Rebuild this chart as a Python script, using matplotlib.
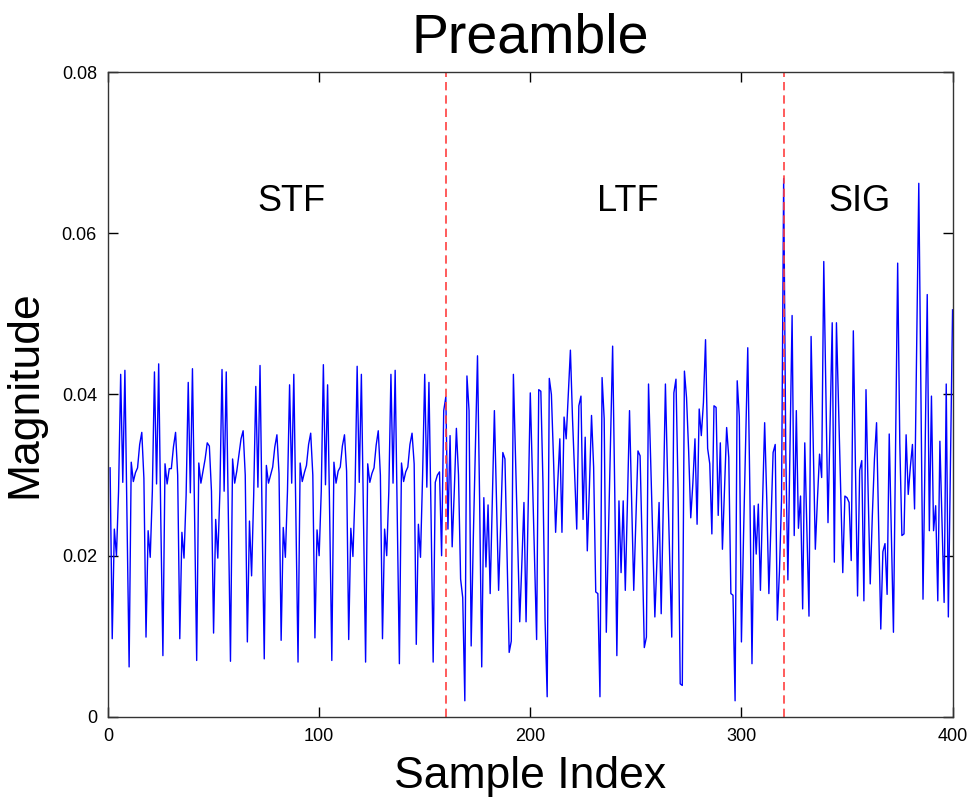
import matplotlib
matplotlib.use("Agg")
import matplotlib.pyplot as plt

plt.rcParams['font.family'] = ['Liberation Sans', 'DejaVu Sans']

# magnitude of the preamble samples
# short training field, samples 1..157 (16-sample repetitions)
stf = [
    0.0309, 0.0097, 0.0233, 0.0200, 0.0280, 0.0425, 0.0291, 0.0430, 0.0250, 0.0062, 0.0316, 0.0292, 0.0303, 0.0309, 0.0338, 0.0353,
    0.0296, 0.0099, 0.0231, 0.0198, 0.0280, 0.0428, 0.0289, 0.0438, 0.0245, 0.0076, 0.0314, 0.0289, 0.0308, 0.0308, 0.0335, 0.0353,
    0.0300, 0.0097, 0.0229, 0.0197, 0.0275, 0.0415, 0.0278, 0.0432, 0.0248, 0.0070, 0.0315, 0.0290, 0.0305, 0.0320, 0.0340, 0.0336,
    0.0280, 0.0104, 0.0245, 0.0197, 0.0280, 0.0431, 0.0280, 0.0428, 0.0250, 0.0069, 0.0320, 0.0290, 0.0305, 0.0325, 0.0345, 0.0355,
    0.0300, 0.0093, 0.0243, 0.0175, 0.0275, 0.0410, 0.0285, 0.0436, 0.0245, 0.0072, 0.0312, 0.0290, 0.0300, 0.0310, 0.0335, 0.0350,
    0.0302, 0.0095, 0.0235, 0.0198, 0.0280, 0.0412, 0.0290, 0.0425, 0.0250, 0.0068, 0.0315, 0.0292, 0.0303, 0.0312, 0.0338, 0.0352,
    0.0300, 0.0098, 0.0232, 0.0200, 0.0280, 0.0437, 0.0288, 0.0412, 0.0248, 0.0070, 0.0316, 0.0290, 0.0305, 0.0310, 0.0336, 0.0350,
    0.0305, 0.0096, 0.0234, 0.0199, 0.0280, 0.0435, 0.0291, 0.0425, 0.0250, 0.0068, 0.0314, 0.0291, 0.0302, 0.0309, 0.0337, 0.0355,
    0.0300, 0.0097, 0.0233, 0.0200, 0.0280, 0.0425, 0.0290, 0.0430, 0.0248, 0.0066, 0.0315, 0.0292, 0.0304, 0.0310, 0.0338, 0.0352,
    0.0314, 0.0090, 0.0239, 0.0198, 0.0300, 0.0425, 0.0285, 0.0415, 0.0250, 0.0068, 0.0291, 0.0300, 0.0304,
]

# long training field, samples 158..320
ltf = [
    0.0200, 0.0380, 0.0397, 0.0233, 0.0349, 0.0211, 0.0280, 0.0358, 0.0300, 0.0171,
    0.0148, 0.0020, 0.0423, 0.0380, 0.0088, 0.0220, 0.0335, 0.0448, 0.0270, 0.0062,
    0.0272, 0.0186, 0.0263, 0.0153, 0.0265, 0.0380, 0.0270, 0.0157, 0.0240, 0.0328,
    0.0320, 0.0200, 0.0080, 0.0094, 0.0425, 0.0320, 0.0220, 0.0118, 0.0190, 0.0266,
    0.0118, 0.0260, 0.0402, 0.0300, 0.0200, 0.0096, 0.0406, 0.0404, 0.0290, 0.0120,
    0.0025, 0.0420, 0.0400, 0.0320, 0.0229, 0.0290, 0.0345, 0.0229, 0.0372, 0.0345,
    0.0400, 0.0455, 0.0370, 0.0300,
    0.0233, 0.0386, 0.0398, 0.0245, 0.0347, 0.0206, 0.0285, 0.0374, 0.0310, 0.0155,
    0.0153, 0.0025, 0.0421, 0.0370, 0.0105, 0.0225, 0.0340, 0.0460, 0.0280, 0.0076,
    0.0268, 0.0179, 0.0268, 0.0157, 0.0265, 0.0380, 0.0270, 0.0157, 0.0245, 0.0330,
    0.0324, 0.0210, 0.0086, 0.0099, 0.0413, 0.0320, 0.0220, 0.0124, 0.0195, 0.0266,
    0.0128, 0.0265, 0.0413, 0.0300, 0.0200, 0.0099, 0.0402, 0.0419, 0.0280, 0.0041,
    0.0039, 0.0429, 0.0396, 0.0330, 0.0247, 0.0290, 0.0345, 0.0239, 0.0382, 0.0349,
    0.0390, 0.0468, 0.0333, 0.0314,
    0.0227, 0.0386, 0.0384, 0.0250, 0.0340, 0.0208, 0.0285, 0.0359, 0.0322, 0.0153,
    0.0151, 0.0020, 0.0417, 0.0372, 0.0093, 0.0225, 0.0340, 0.0458, 0.0280, 0.0066,
    0.0262, 0.0202, 0.0264, 0.0157, 0.0265, 0.0365, 0.0270, 0.0153, 0.0240, 0.0328,
    0.0338, 0.0120, 0.0180, 0.0270, 0.0668,
]

# signal field, samples 321..400
sig = [
    0.0330, 0.0170, 0.0335, 0.0498, 0.0225, 0.0380, 0.0234, 0.0274, 0.0134, 0.0340,
    0.0230, 0.0125, 0.0472, 0.0340, 0.0208, 0.0270, 0.0326, 0.0297, 0.0565, 0.0400,
    0.0241, 0.0365, 0.0489, 0.0192, 0.0489, 0.0385, 0.0280, 0.0179, 0.0274, 0.0272,
    0.0266, 0.0194, 0.0479, 0.0310, 0.0150, 0.0306, 0.0318, 0.0144, 0.0406, 0.0280,
    0.0165, 0.0250, 0.0320, 0.0365, 0.0240, 0.0109, 0.0205, 0.0215, 0.0152, 0.0351,
    0.0230, 0.0105, 0.0330, 0.0563, 0.0340, 0.0225, 0.0227, 0.0350, 0.0276, 0.0310,
    0.0338, 0.0258, 0.0460, 0.0662, 0.0400, 0.0146, 0.0330, 0.0524, 0.0231, 0.0398,
    0.0231, 0.0262, 0.0144, 0.0342, 0.0240, 0.0142, 0.0413, 0.0124, 0.0310, 0.0505,
]

magnitude = stf + ltf + sig
samples = list(range(1, len(magnitude) + 1))

boundaries = [160, 320]
field_names = ['STF', 'LTF', 'SIG']
field_x = [87, 246, 356]
field_y = 0.064

fig = plt.figure(figsize=(9.73, 8.01), dpi=100)
ax = fig.add_axes([0.111, 0.105, 0.868, 0.805])

ax.plot(samples, magnitude, color='#0000ff', linewidth=1.0)
for b in boundaries:
    ax.axvline(b, color='#ff4040', linewidth=1.2, linestyle=(0, (5, 3)))

for name, xx in zip(field_names, field_x):
    ax.text(xx, field_y, name, fontsize=26, ha='center', va='center')

ax.set_xlim(0, 400)
ax.set_ylim(0, 0.08)
ax.set_xticks([0, 100, 200, 300, 400])
ax.set_yticks([0, 0.02, 0.04, 0.06, 0.08])
ax.set_yticklabels(['0', '0.02', '0.04', '0.06', '0.08'])
ax.tick_params(direction='in', length=7, width=1, labelsize=13,
               top=True, right=True, pad=8)
for s in ax.spines.values():
    s.set_linewidth(1.0)
    s.set_color('#333333')

ax.set_title('Preamble', fontsize=40, pad=14)
ax.set_xlabel('Sample Index', fontsize=32, labelpad=8)
ax.set_ylabel('Magnitude', fontsize=32, labelpad=12)

fig.savefig('out.png', dpi=100)
